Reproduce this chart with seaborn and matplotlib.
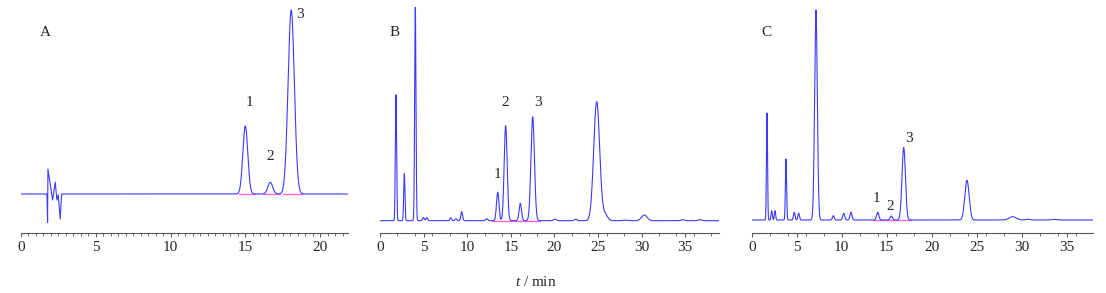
import numpy as np
import pandas as pd
import matplotlib
matplotlib.use("Agg")
import matplotlib.pyplot as plt
from matplotlib.ticker import MultipleLocator
import seaborn as sns

# ---------------- data (retention time / min, peak height, peak sigma) -------------
# Panel A (standards)
a_rt = [15.0, 16.67, 18.07]
a_h = [68, 11.7, 184]
a_sd = [0.165, 0.16, 0.21]
# solvent-front disturbance of panel A (time, signal)
a_dist_t = [1.733, 1.778, 1.80, 2.111, 2.289, 2.40, 2.489, 2.622, 2.711]
a_dist_y = [0, -28.3, 25, -6, 11.7, -6, -0.7, -25, 0]
a_integ = [(14.6, 15.65), (16.2, 17.3), (17.5, 18.8)]
a_labels = ["1", "2", "3"]
a_lab_t = [15.27, 16.67, 18.67]
a_lab_y = [91, 37, 180]

# Panel B (sample 1)
b_rt = [1.83, 2.79, 4.05, 4.97, 5.36, 8.11, 8.72, 9.37, 12.24, 13.5, 14.41, 16.09,
        17.51, 20.07, 22.44, 24.85, 25.8, 28.1, 30.31, 34.75, 36.7]
b_h = [126, 47, 213.4, 3, 3, 3, 2, 9, 2, 28.4, 95, 17.4,
       104, 1.5, 1.5, 119, 6, 0.6, 5.7, 1, 1]
b_sd = [0.07, 0.07, 0.075, 0.1, 0.1, 0.1, 0.1, 0.1, 0.12, 0.14, 0.17, 0.14,
        0.2, 0.15, 0.15, 0.34, 0.3, 0.3, 0.32, 0.2, 0.2]
b_integ = [(12.8, 18.35)]
b_lab_t = [13.5, 14.41, 18.15]
b_lab_y = [46.7, 117.7, 117.7]

# Panel C (sample 2)
c_rt = [1.7, 2.22, 2.59, 3.81, 4.73, 5.22, 7.14, 9.07, 10.22, 11.03, 14.0, 15.51,
        16.89, 23.92, 29.0, 30.67, 33.6]
c_h = [107, 9.3, 9.3, 61, 7.7, 6.7, 210, 4.3, 6.7, 7.7, 7.7, 4,
       72.7, 39.7, 3.3, 0.7, 0.7]
c_sd = [0.06, 0.07, 0.07, 0.065, 0.09, 0.09, 0.15, 0.1, 0.11, 0.11, 0.13, 0.13,
        0.19, 0.24, 0.4, 0.25, 0.25]
c_integ = [(13.44, 17.7)]
c_lab_t = [13.92, 15.4, 17.44]
c_lab_y = [21, 13, 81]

panel_names = ["A", "B", "C"]
tick_vals = [0, 5, 10, 15, 20, 25, 30, 35]
xlabel = "$t$ / min"

# ---------------- helpers -------------------------------------------------------
def trace(rt, h, sd, tmax, n=6000):
    t = np.linspace(0, tmax, n)
    y = np.zeros_like(t)
    for r, hh, s in zip(rt, h, sd):
        y += hh * np.exp(-0.5 * ((t - r) / s) ** 2)
    return t, y

W, H = 1106, 293
fig = plt.figure(figsize=(W / 100, H / 100), dpi=100)
sns.set_style("white")
plt.rcParams["font.family"] = ["Liberation Serif", "DejaVu Serif"]
plt.rcParams["mathtext.fontset"] = "custom"
plt.rcParams["mathtext.it"] = "Liberation Serif:italic"
plt.rcParams["mathtext.rm"] = "Liberation Serif"

line_col = "#3a3aff"
pink = "#ff66dd"
ax_col = "#555555"

# layout: (left px, right px, xmax, baseline px)
layouts = [
    (21, 348, (348 - 20) / 15.0, 194.0, 0.5),
    (380, 719, (719 - 380) / 8.72, 220.7, 2),
    (751.7, 1092.7, (1092.7 - 751.7) / 9.0, 220.0, 2),
]
axis_y = 232.5
top_y = 5.0

datasets = [
    (a_rt, a_h, a_sd, a_integ, a_lab_t, a_lab_y),
    (b_rt, b_h, b_sd, b_integ, b_lab_t, b_lab_y),
    (c_rt, c_h, c_sd, c_integ, c_lab_t, c_lab_y),
]

for i, ((left, right, xmax, base, minor), (rt, h, sd, integ, lt, ly)) in enumerate(zip(layouts, datasets)):
    ax = fig.add_axes([left / W, (H - axis_y) / H, (right - left) / W, (axis_y - top_y) / H])
    t, y = trace(rt, h, sd, xmax)
    if i == 0:
        keep = (t < a_dist_t[0]) | (t > a_dist_t[-1])
        t = np.concatenate([t[keep], a_dist_t])
        y = np.concatenate([y[keep], a_dist_y])
        order = np.argsort(t, kind="stable")
        t, y = t[order], y[order]
    df = pd.DataFrame({"t": t, "y": y})
    for s, e in integ:
        ax.plot([s, e], [0, 0], color=pink, lw=1.0, zorder=1)
    sns.lineplot(data=df, x="t", y="y", ax=ax, color=line_col, lw=0.8,
                 estimator=None, sort=False, zorder=2)
    ax.set_xlim(0, xmax)
    ax.set_ylim(-(axis_y - base), base - top_y)
    for s in ["top", "right", "left"]:
        ax.spines[s].set_visible(False)
    ax.spines["bottom"].set_color(ax_col)
    ax.spines["bottom"].set_linewidth(0.8)
    ax.set_yticks([])
    ticks = [v for v in tick_vals if v <= xmax]
    ax.set_xticks(ticks)
    ax.set_xticklabels([str(v) for v in ticks])
    ax.xaxis.set_minor_locator(MultipleLocator(minor))
    ax.tick_params(axis="x", which="major", direction="out", length=3, width=0.7,
                   color=ax_col, labelsize=11, pad=3, bottom=True)
    ax.tick_params(axis="x", which="minor", direction="out", length=2, width=0.6,
                   color=ax_col, bottom=True)
    ax.set_xlabel("")
    ax.set_ylabel("")
    for lab, tx, tyy in zip(a_labels, lt, ly):
        ax.text(tx, tyy, lab, ha="center", va="center", fontsize=11)
    ax.text((left + 24 if i == 0 else left + 15) / 1.0, 0, "", alpha=0)
    fx = (45 - 21) / (348 - 21) if i == 0 else 15 / (right - left)
    ax.text(fx, (axis_y - 32) / (axis_y - top_y), panel_names[i], transform=ax.transAxes,
            ha="center", va="center", fontsize=11)

fig.text(536 / W, (H - 282) / H, xlabel, ha="center", va="center", fontsize=11)
fig.savefig("out.png", dpi=100)
